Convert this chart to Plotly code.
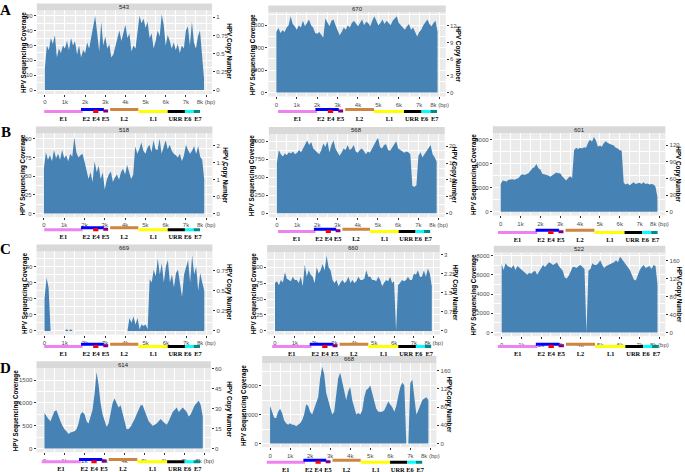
import plotly.graph_objects as go

W, H = 685, 472

# coverage, one value per 100 bp window
positions = list(range(0, 8000, 100))

cov_543 = [14, 30, 27, 35, 31, 37, 22, 28, 25, 30,
           28, 33, 27, 35, 30, 33, 24, 30, 22, 27,
           25, 32, 28, 35, 42, 50, 38, 26, 46, 30,
           36, 28, 31, 22, 24, 30, 34, 40, 33, 38,
           44, 35, 38, 26, 30, 28, 40, 50, 45, 48,
           42, 46, 35, 38, 28, 33, 40, 36, 51, 44,
           30, 37, 33, 28, 32, 27, 31, 25, 30, 28,
           40, 43, 30, 46, 32, 28, 36, 40, 24, 8]

cov_670 = [540, 575, 530, 555, 540, 580, 600, 680, 610, 590,
           560, 600, 580, 640, 590, 620, 650, 600, 580, 530,
           525, 540, 520, 490, 660, 620, 590, 640, 650, 600,
           560, 510, 540, 580, 560, 600, 580, 620, 640, 610,
           590, 620, 650, 600, 630, 620, 590, 640, 680, 640,
           600, 620, 650, 610, 640, 620, 600, 640, 660, 680,
           620, 600, 580, 560, 590, 610, 560, 580, 540, 500,
           540, 560, 600, 620, 650, 610, 590, 620, 640, 540]

cov_518 = [60, 82, 72, 78, 70, 85, 74, 80, 72, 85,
           74, 78, 70, 80, 76, 102, 82, 75, 78, 80,
           70, 56, 46, 55, 42, 70, 55, 64, 46, 55,
           32, 45, 52, 56, 42, 48, 52, 45, 55, 60,
           52, 65, 55, 46, 52, 90, 80, 86, 95, 84,
           80, 88, 92, 82, 98, 86, 85, 100, 80, 90,
           98, 86, 92, 84, 80, 78, 75, 80, 70, 78,
           92, 85, 80, 84, 90, 80, 90, 76, 72, 45]

cov_568 = [700, 880, 820, 790, 830, 810, 850, 830, 860, 820,
           840, 880, 850, 900, 950, 1010, 950, 990, 900, 870,
           850, 820, 880, 970, 920, 1000, 850, 950, 1010, 900,
           850, 800, 840, 900, 880, 950, 880, 900, 950, 860,
           840, 880, 900, 870, 820, 860, 840, 900, 950, 1000,
           1050, 920, 900, 950, 960, 880, 870, 920, 950, 1000,
           900, 880, 860, 840, 860, 850, 820, 380, 370, 390,
           800, 850, 780, 820, 860, 900, 950, 820, 780, 720]

cov_601 = [2300, 2600, 2550, 2500, 2650, 2700, 2700, 2650, 2700, 2800,
           3000, 3100, 3050, 3150, 3200, 3400, 3600, 3700, 3950, 3600,
           3500, 3150, 3100, 3100, 3000, 2900, 3000, 3150, 3250, 3200,
           3200, 2950, 2750, 2600, 2800, 2950, 2800, 5100, 5300, 5200,
           5300, 5250, 5350, 5300, 5700, 6000, 5800, 6200, 5900, 5400,
           5500, 5400, 5700, 5850, 5700, 5600, 5550, 5500, 5300, 5250,
           5100, 5050, 2400, 2250, 2350, 2200, 2300, 2450, 2300, 2350,
           2400, 2300, 2450, 2300, 2350, 2250, 2300, 2250, 2100, 1200]

cov_669 = [20, 33, 27, 0, 0, 0, 0, 0, 0, 0,
           0, 1, 0, 1, 0, 0, 0, 0, 0, 0,
           0, 0, 0, 0, 0, 0, 0, 0, 0, 0,
           0, 0, 0, 0, 0, 0, 0, 0, 0, 0,
           0, 0, 8, 5, 9, 4, 8, 1, 4, 3,
           4, 1, 32, 30, 38, 34, 45, 35, 42, 30,
           40, 44, 30, 35, 27, 36, 38, 28, 21, 35,
           40, 44, 30, 47, 35, 40, 25, 36, 30, 25]

cov_660 = [75, 78, 72, 80, 76, 92, 82, 80, 78, 85,
           80, 80, 75, 85, 70, 104, 85, 95, 88, 85,
           75, 100, 90, 95, 105, 95, 118, 100, 95, 80,
           75, 80, 70, 76, 80, 75, 78, 85, 75, 80,
           75, 78, 85, 80, 80, 82, 95, 85, 85, 80,
           80, 78, 85, 80, 70, 76, 80, 78, 85, 75,
           78, 0, 72, 75, 80, 78, 80, 85, 80, 80,
           90, 88, 95, 85, 85, 95, 85, 98, 90, 70]

cov_522 = [7100, 6500, 7200, 6900, 6800, 6700, 7000, 6500, 6900, 6700,
           6500, 6300, 6200, 6000, 6200, 6100, 6300, 6400, 6000, 6300,
           6600, 7000, 6800, 7100, 7300, 7200, 7000, 7100, 7300, 6900,
           6600, 6400, 5700, 5600, 5900, 6300, 6800, 6800, 6700, 6900,
           7000, 6800, 6600, 0, 6400, 6600, 7200, 7000, 7000, 7200,
           7500, 7000, 6700, 6900, 7000, 7100, 7200, 7300, 7500, 7300,
           7900, 7600, 7300, 7000, 6800, 6500, 6000, 5500, 5400, 6000,
           6500, 6800, 7000, 6700, 6800, 6900, 6600, 7000, 6900, 5000]

cov_614 = [780, 700, 650, 600, 700, 820, 840, 700, 600, 500,
           420, 380, 320, 350, 360, 380, 420, 550, 750, 800,
           750, 600, 550, 700, 850, 1200, 1680, 1400, 1000, 750,
           600, 480, 550, 800, 1000, 1100, 1000, 900, 950, 800,
           600, 420, 430, 480, 550, 650, 750, 850, 950, 950,
           820, 700, 600, 550, 500, 520, 550, 600, 650, 600,
           550, 520, 600, 700, 800, 850, 900, 800, 850, 900,
           850, 800, 700, 750, 850, 950, 1000, 1050, 950, 700]

cov_668 = [2600, 2200, 1800, 1750, 2200, 2400, 2100, 1600, 1400, 1300,
           1400, 1300, 1300, 1200, 1300, 1400, 1600, 2000, 2700, 2600,
           2200, 2000, 2400, 2800, 3200, 4500, 5300, 4800, 3500, 3000,
           2500, 2000, 2200, 3500, 4500, 4900, 4300, 3600, 3000, 3600,
           3900, 3000, 2400, 2000, 2100, 2000, 2300, 3200, 3700, 3800,
           4000, 3500, 2900, 2400, 2200, 2200, 2200, 2300, 2600, 2900,
           2700, 2500, 2200, 2600, 3300, 3900, 4200, 4000, 0, 0,
           4200, 4400, 3200, 2000, 2300, 2600, 3000, 3100, 3200, 3000]

sample_ids = ["543", "670", "518", "568", "601", "669", "660", "522", "614", "668"]
coverage = [cov_543, cov_670, cov_518, cov_568, cov_601,
            cov_669, cov_660, cov_522, cov_614, cov_668]

coverage_ticks = [
    [0, 10, 20, 30, 40, 50],
    [0, 200, 400, 600],
    [0, 25, 50, 75, 100],
    [0, 250, 500, 750, 1000],
    [0, 2000, 4000, 6000],
    [0, 10, 20, 30, 40, 50],
    [0, 25, 50, 75, 100, 125],
    [0, 2000, 4000, 6000, 8000],
    [0, 500, 1000, 1500],
    [0, 2000, 4000],
]
copy_ticks = [
    [0, 0.25, 0.5, 0.75, 1],
    [0, 3, 6, 9, 12],
    [0, 0.5, 1, 1.5, 2],
    [0, 5, 10, 15, 20],
    [0, 30, 60, 90, 120],
    [0, 0.25, 0.5, 0.75, 1],
    [0, 0.75, 1.5, 2.25, 3],
    [0, 40, 80, 120, 160],
    [0, 15, 30, 45, 60],
    [0, 40, 80, 120, 160],
]
reads_per_copy = [49, 49.5, 45.3, 46.5, 45.9, 50, 40, 46.7, 29.3, 31.4]

x_ticks = [0, 1000, 2000, 3000, 4000, 5000, 6000, 7000, 8000]
x_tick_labels = ["0", "1k", "2k", "3k", "4k", "5k", "6k", "7k", "8k (bp)"]

# linearised HPV genome map
gene_names = ["E1", "E2", "E4", "E5", "L2", "L1", "URR", "E6", "E7"]
gene_start = [0, 1820, 2420, 2920, 3260, 4650, 6100, 6950, 7380]
gene_end = [1900, 2950, 2680, 3160, 4650, 6100, 6950, 7380, 7700]
gene_label_at = [950, 2080, 2560, 3030, 3950, 5400, 6480, 7090, 7590]

gene_colors = ["#EE82EE", "#0000FF", "#FF0000", "#800080", "#CD853F",
               "#FFFF00", "#000000", "#00FFFF", "#008B8B"]
gene_track = [0, 0.9, 0, 0.3, 0.9, 0, 0, 0, 0]

# pixel boxes: left, right, top, bottom, map left, map right, map row y, left title x, right title x
boxes = [
    (37, 213, 7.5, 91.5, 44.3, 201, 109.3, 24, 230),
    (269.5, 447.7, 9.5, 94, 279, 439, 109.3, 255, 459.3),
    (36, 213.3, 131.3, 215.6, 44.3, 201, 228.3, 23.3, 226),
    (270, 446.7, 131.8, 215.5, 279, 432.3, 230, 252.7, 456.7),
    (495, 668.3, 131.1, 213.8, 500, 660.7, 231, 476.7, 681),
    (36.7, 213.3, 250, 333.8, 44.3, 201, 345.7, 25, 230),
    (268.3, 441.7, 250.5, 333.8, 273.3, 433.3, 345.7, 255, 456.7),
    (496, 668.3, 251.2, 335.5, 500, 661.7, 345.7, 477, 681),
    (36.7, 211.7, 367.5, 452.2, 41.7, 201, 461.7, 16, 230),
    (263.3, 438.3, 362.2, 447.2, 267.7, 424.3, 462.3, 245, 450.7),
]
letters = [("A", 6, 7), ("B", 6, 130), ("C", 6, 248), ("D", 6, 367)]

SANS = "Liberation Sans"
SERIF = "Liberation Serif"


def fx(px):
    return px / W


def fy(py):
    return 1 - py / H


def minor_vals(ticks, hi):
    step = ticks[1] - ticks[0]
    mids = [t + step / 2 for t in ticks]
    return [m for m in mids if m < hi]


def aname(kind, n):
    return kind if n == 1 else f"{kind}{n}"


fig = go.Figure()
layout = {}
shapes = []
annotations = []

tickstyle = dict(ticks="outside", ticklen=2, tickwidth=0.6, tickcolor="#333333",
                 tickfont=dict(family=SANS, size=6, color="#4D4D4D"),
                 zeroline=False, showline=False)

for i, sid in enumerate(sample_ids):
    L, R, T, B, gL, gR, gY, ltx, rtx = boxes[i]
    xm, xg = 2 * i + 1, 2 * i + 2
    ym, yr, yg = 3 * i + 1, 3 * i + 2, 3 * i + 3
    vals = coverage[i]
    top = max(vals)
    yrange = [-0.05 * top, 1.05 * top]

    layout["xaxis" + ("" if xm == 1 else str(xm))] = dict(
        domain=[fx(L), fx(R)], anchor=aname("y", ym), range=[-395, 8300],
        tickmode="array", tickvals=x_ticks, ticktext=x_tick_labels,
        showgrid=True, gridcolor="white", gridwidth=0.9,
        minor=dict(tickvals=minor_vals(x_ticks, 8300), showgrid=True,
                   gridcolor="white", gridwidth=0.4),
        **tickstyle)
    layout["yaxis" + ("" if ym == 1 else str(ym))] = dict(
        domain=[fy(B), fy(T)], anchor=aname("x", xm), range=yrange,
        tickmode="array", tickvals=coverage_ticks[i],
        ticktext=[str(v) for v in coverage_ticks[i]],
        showgrid=True, gridcolor="white", gridwidth=0.9,
        minor=dict(tickvals=minor_vals(coverage_ticks[i], yrange[1]), showgrid=True,
                   gridcolor="white", gridwidth=0.4),
        **tickstyle)
    f = reads_per_copy[i]
    layout[f"yaxis{yr}"] = dict(
        overlaying=aname("y", ym), side="right", anchor=aname("x", xm),
        range=[yrange[0] / f, yrange[1] / f],
        tickmode="array", tickvals=copy_ticks[i],
        ticktext=[f"{v:g}" for v in copy_ticks[i]],
        showgrid=False, **tickstyle)
    layout[f"xaxis{xg}"] = dict(domain=[fx(gL), fx(gR)], anchor=aname("y", yg),
                                range=[gene_start[0], gene_end[-1]], visible=False)
    layout[f"yaxis{yg}"] = dict(domain=[fy(gY + 8.75), fy(gY - 4.86)],
                                anchor=aname("x", xg), range=[-3.6, 2], visible=False)

    # panel background and strip
    shapes.append(dict(type="rect", xref="paper", yref="paper", layer="below",
                       x0=fx(L), x1=fx(R), y0=fy(B), y1=fy(T),
                       fillcolor="#EBEBEB", line=dict(width=0)))
    shapes.append(dict(type="rect", xref="paper", yref="paper", layer="below",
                       x0=fx(L), x1=fx(R), y0=fy(T), y1=fy(T - 7),
                       fillcolor="#D9D9D9", line=dict(width=0)))
    annotations.append(dict(text=sid, x=fx((L + R) / 2), y=fy(T - 3.5),
                            xref="paper", yref="paper", showarrow=False,
                            font=dict(family=SANS, size=6, color="#1A1A1A"),
                            xanchor="center", yanchor="middle"))
    annotations.append(dict(text="<b>HPV Sequencing Coverage</b>", x=fx(ltx),
                            y=fy((T + B) / 2), xref="paper", yref="paper",
                            showarrow=False, textangle=-90,
                            font=dict(family=SANS, size=6.3, color="black"),
                            xanchor="center", yanchor="middle"))
    annotations.append(dict(text="<b>HPV Copy Number</b>", x=fx(rtx),
                            y=fy((T + B) / 2), xref="paper", yref="paper",
                            showarrow=False, textangle=90,
                            font=dict(family=SANS, size=6.3, color="black"),
                            xanchor="center", yanchor="middle"))

    fig.add_trace(go.Scatter(
        x=positions, y=vals, mode="lines", fill="tozeroy",
        line=dict(width=0, color="#4682B4"), fillcolor="#4682B4",
        xaxis=aname("x", xm), yaxis=aname("y", ym), hoverinfo="skip"))
    fig.add_trace(go.Scatter(x=[], y=[], xaxis=aname("x", xm), yaxis=f"y{yr}",
                             hoverinfo="skip"))

    for j in range(len(gene_names)):
        fig.add_trace(go.Scatter(
            x=[gene_start[j], gene_end[j]], y=[gene_track[j], gene_track[j]],
            mode="lines", line=dict(color=gene_colors[j], width=3),
            xaxis=f"x{xg}", yaxis=f"y{yg}", hoverinfo="skip"))
    fig.add_trace(go.Scatter(
        x=gene_label_at, y=[-3.2] * len(gene_names), mode="text",
        text=[f"<b>{g}</b>" for g in gene_names], cliponaxis=False,
        textfont=dict(family=SERIF, size=6.4, color="black"),
        xaxis=f"x{xg}", yaxis=f"y{yg}", hoverinfo="skip"))

for letter, lx, ly in letters:
    annotations.append(dict(text=f"<b>{letter}</b>", x=fx(lx), y=fy(ly),
                            xref="paper", yref="paper", showarrow=False,
                            font=dict(family=SERIF, size=15, color="black"),
                            xanchor="center", yanchor="middle"))

fig.update_layout(**layout)
fig.update_layout(width=W, height=H, margin=dict(l=0, r=0, t=0, b=0),
                  paper_bgcolor="white", plot_bgcolor="rgba(0,0,0,0)",
                  showlegend=False, shapes=shapes, annotations=annotations)

# the page body has a default 8px margin; drop it so the figure fills the window
fig.write_html("out.html", config={"displayModeBar": False},
               post_script="document.body.style.margin='0';document.body.style.overflow='hidden';")
